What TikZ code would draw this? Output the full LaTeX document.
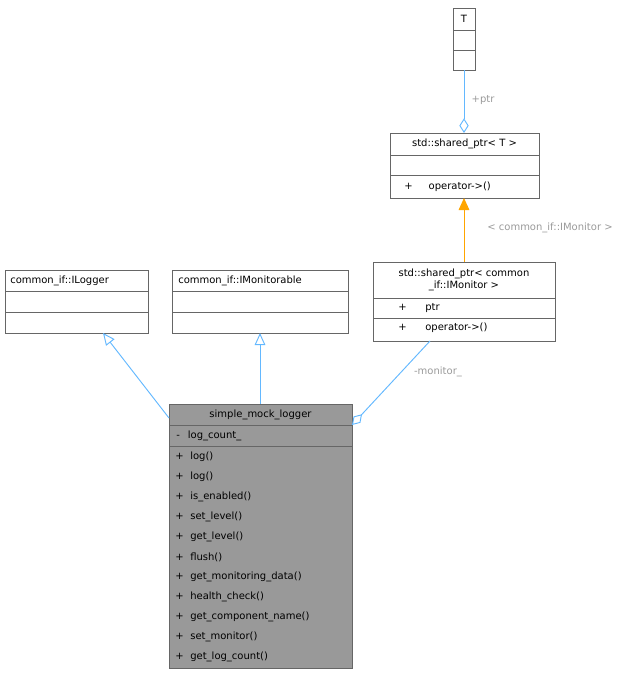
\documentclass[tikz,border=0pt]{standalone}
\usepackage{fontspec}
\setmainfont{DejaVu Sans}
\usetikzlibrary{arrows.meta}
\definecolor{edge}{HTML}{63B8FF}
\definecolor{bord}{HTML}{666666}
\definecolor{lab}{HTML}{9A9A9A}
\definecolor{orng}{HTML}{FFA500}
\begin{document}
\begin{tikzpicture}[x=0.75pt,y=-0.75pt,
  box/.style={draw=bord,line width=0.6pt},
  sep/.style={draw=bord,line width=0.6pt},
  t/.style={font=\fontsize{7.5}{9}\selectfont,inner sep=0pt},
  lb/.style={font=\fontsize{7.5}{9}\selectfont,text=lab,inner sep=1pt},
  ed/.style={draw=edge,line width=0.7pt}]
\useasboundingbox (0,0) rectangle (639,675);
% T
\draw[box] (453,8) rectangle (475,70);
\draw[sep] (453,30)--(475,30) (453,50)--(475,50);
\node[t] (tT) at (464,19) {T};
\coordinate (Tb) at (464,70);
% shared_ptr<T>
\draw[box] (390,133) rectangle (539,198);
\draw[sep] (390,155)--(539,155) (390,175)--(539,175);
\node[t] (spT) at (464.5,144) {std::shared\_ptr< T >};
\node[t,anchor=west] (spTm) at (404,187) {+\hspace{12pt}operator->()};
\coordinate (spTt) at (464,133);
\coordinate (spTb) at (464,198);
% shared_ptr<IMonitor>
\draw[box] (373,262) rectangle (555,341);
\draw[sep] (373,298)--(555,298) (373,318)--(555,318);
\node[t,align=center] (spM) at (464,280) {std::shared\_ptr< common\\\_if::IMonitor >};
\node[t,anchor=west] (spM1) at (398,308) {+\hspace{14pt}ptr};
\node[t,anchor=west] (spM2) at (398,328) {+\hspace{14pt}operator->()};
\coordinate (spMt) at (464,262);
\coordinate (spMb) at (430,341);
% ILogger
\draw[box] (5,270) rectangle (148,333);
\draw[sep] (5,291)--(148,291) (5,312)--(148,312);
\node[t,anchor=west] (il) at (10,281) {common\_if::ILogger};
\coordinate (ilb) at (103,333);
% IMonitorable
\draw[box] (172,270) rectangle (348,333);
\draw[sep] (172,291)--(348,291) (172,312)--(348,312);
\node[t,anchor=west] (im) at (178,281) {common\_if::IMonitorable};
\coordinate (imb) at (260,333);
% simple_mock_logger
\draw[box,fill=black!40] (169,404) rectangle (352,668);
\draw[sep] (169,425)--(352,425) (169,446)--(352,446);
\node[t] (sm) at (260.5,415) {simple\_mock\_logger};
\node[t,anchor=west] (a1) at (176,436) {-\hspace{6pt}log\_count\_};
\foreach \s [count=\i from 0] in {log(),log(),is\_enabled(),set\_level(),get\_level(),flush(),get\_monitoring\_data(),health\_check(),get\_component\_name(),set\_monitor(),get\_log\_count()}
  \node[t,anchor=west] (m\i) at (175,{457+20*\i}) {+\hspace{5pt}\s};
\coordinate (smt) at (260,404);
\coordinate (sml) at (169,418);
\coordinate (smr) at (352,425);
% edges
\draw[ed,{Diamond[open,length=11pt,width=7pt]}-] (spTt) -- (Tb);
\node[lb] (l1) at (483,100) {+ptr};
\draw[draw=orng,line width=0.7pt,{Triangle[length=9pt,width=8pt,fill=orng]}-] (spTb) -- (spMt);
\node[lb] (l2) at (550,228) {< common\_if::IMonitor >};
\draw[ed,{Triangle[open,length=9pt,width=8pt,fill=white]}-] (ilb) -- (sml);
\draw[ed,{Triangle[open,length=9pt,width=8pt,fill=white]}-] (imb) -- (smt);
\draw[ed,{Diamond[open,length=11pt,width=7pt]}-] (smr) -- (spMb);
\node[lb] (l3) at (438,372) {-monitor\_};
\end{tikzpicture}
\end{document}
